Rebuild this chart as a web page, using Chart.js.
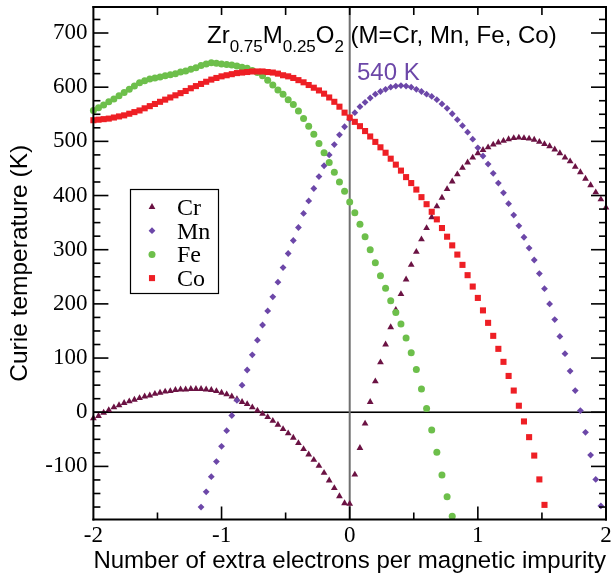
<!DOCTYPE html>
<html>
<head>
<meta charset="utf-8">
<script src="https://cdn.jsdelivr.net/npm/chart.js@4.4.1/dist/chart.umd.min.js"></script>
<style>
  html, body { margin: 0; padding: 0; background: #fff; }
  #wrap { width: 613px; height: 578px; position: relative; }
</style>
</head>
<body>
<div id="wrap"><canvas id="curie-chart"></canvas></div>
<script>
// extra electrons per impurity (shared by all four series)
const xValues = [
  -2.00, -1.96, -1.92, -1.88, -1.84, -1.80, -1.76, -1.72, -1.68, -1.64,
  -1.60, -1.56, -1.52, -1.48, -1.44, -1.40, -1.36, -1.32, -1.28, -1.24,
  -1.20, -1.16, -1.12, -1.08, -1.04, -1.00, -0.96, -0.92, -0.88, -0.84,
  -0.80, -0.76, -0.72, -0.68, -0.64, -0.60, -0.56, -0.52, -0.48, -0.44,
  -0.40, -0.36, -0.32, -0.28, -0.24, -0.20, -0.16, -0.12, -0.08, -0.04,
  0.00,
  0.04, 0.08, 0.12, 0.16, 0.20, 0.24, 0.28, 0.32, 0.36, 0.40,
  0.44, 0.48, 0.52, 0.56, 0.60, 0.64, 0.68, 0.72, 0.76, 0.80,
  0.84, 0.88, 0.92, 0.96, 1.00, 1.04, 1.08, 1.12, 1.16, 1.20,
  1.24, 1.28, 1.32, 1.36, 1.40, 1.44, 1.48, 1.52, 1.56, 1.60,
  1.64, 1.68, 1.72, 1.76, 1.80, 1.84, 1.88, 1.92, 1.96, 2.00
];

// Curie temperature (K), null = outside the plotted range
const crValues = [
  -11, -7, -1, 4, 9, 13, 17, 20, 23, 26,
  29, 31, 34, 36, 38, 39, 41, 42, 42, 43,
  43, 43, 42, 41, 39, 36, 33, 29, 24, 19,
  15, 9, 3, -3, -9, -16, -23, -31, -39, -47,
  -57, -68, -78, -88, -99, -112, -126, -140, -155, -168,
  -169,
  -115, -66, -21, 19, 57, 92, 125, 157, 189, 218,
  245, 272, 296, 319, 340, 360, 380, 396, 412, 426,
  439, 451, 461, 470, 478, 484, 489, 494, 498, 501,
  504, 506, 507, 506, 505, 503, 499, 495, 491, 485,
  478, 470, 463, 453, 443, 431, 419, 406, 393, 378
];

const mnValues = [
  null, null, null, null, null, null, null, null, null, null,
  null, null, null, null, null, null, null, null, null, null,
  null, -175, -147, -119, -91, -63, -34, -6, 22, 50,
  78, 106, 133, 161, 187, 213, 240, 267, 293, 317,
  341, 367, 390, 413, 435, 455, 475, 494, 512, 527,
  541,
  553, 564, 572, 580, 587, 592, 596, 600, 602, 603,
  602, 600, 596, 592, 587, 583, 577, 569, 561, 551,
  540, 529, 517, 504, 488, 473, 458, 441, 423, 405,
  385, 364, 344, 323, 303, 281, 256, 228, 200, 171,
  140, 108, 76, 40, 3, -37, -79, -124, -173, null
];

const feValues = [
  557, 562, 567, 573, 578, 584, 590, 596, 602, 608,
  612, 615, 617, 619, 621, 623, 625, 628, 630, 633,
  636, 640, 643, 645, 644, 643, 642, 641, 639, 637,
  635, 631, 627, 621, 613, 604, 595, 587, 577, 568,
  556, 542, 528, 513, 496, 479, 461, 443, 425, 408,
  388,
  368, 347, 324, 300, 276, 252, 229, 206, 184, 163,
  137, 110, 79, 43, 7, -33, -74, -116, -156, -192,
  null, null, null, null, null, null, null, null, null, null,
  null, null, null, null, null, null, null, null, null, null,
  null, null, null, null, null, null, null, null, null, null
];

const coValues = [
  539, 540, 541, 542, 544, 546, 548, 551, 554, 557,
  561, 565, 569, 573, 577, 581, 585, 589, 593, 598,
  602, 606, 610, 614, 617, 620, 622, 624, 626, 627,
  628, 629, 629, 629, 628, 627, 625, 622, 620, 617,
  613, 609, 604, 599, 594, 588, 581, 573, 564, 553,
  544,
  536, 528, 519, 509, 499, 489, 479, 468, 457, 446,
  434, 423, 411, 397, 384, 370, 356, 340, 324, 308,
  291, 272, 253, 232, 211, 188, 165, 141, 117, 93,
  67, 40, 12, -17, -46, -80, -124, -171, null, null,
  null, null, null, null, null, null, null, null, null, null
];

const seriesNames = ['Cr', 'Mn', 'Fe', 'Co'];
const xTickLabels = [-2, -1, 0, 1, 2];
const yTickLabels = [-100, 0, 100, 200, 300, 400, 500, 600, 700];
const xMinorStep = 0.5;
const yMinorStep = 25;

const colors = ['#6b1243', '#6c47a8', '#6dbf4b', '#ee1f25'];
const shapes = ['triangle', 'rectRot', 'circle', 'rect'];
const radii = [3.9, 3.4, 3.5, 4.3];

function toPoints(values) {
  const pts = [];
  values.forEach((v, i) => {
    if (v !== null) pts.push({ x: xValues[i], y: v });
  });
  return pts;
}

const allValues = [crValues, mnValues, feValues, coValues];

const datasets = seriesNames.map((name, i) => ({
  label: name,
  data: toPoints(allValues[i]),
  showLine: false,
  pointStyle: shapes[i],
  pointRadius: radii[i],
  pointBackgroundColor: colors[i],
  pointBorderColor: colors[i],
  pointBorderWidth: 0,
  order: 3 - i,
  clip: false
}));

function drawMarker(ctx, i, x, y) {
  if (Chart.helpers && Chart.helpers.drawPoint) {
    ctx.fillStyle = colors[i];
    ctx.strokeStyle = colors[i];
    ctx.lineWidth = 0;
    Chart.helpers.drawPoint(ctx, { pointStyle: shapes[i], radius: radii[i], rotation: 0, borderWidth: 0 }, x, y);
  }
}

// frame with inward ticks, zero lines, legend box and the text labels
const plotDecor = {
  id: 'plotDecor',
  beforeDatasetsDraw(chart) {
    const { ctx, chartArea: a, scales } = chart;
    const y0 = scales.y.getPixelForValue(0);
    const x0 = scales.x.getPixelForValue(0);
    ctx.save();
    ctx.fillStyle = '#000';
    ctx.fillRect(a.left, y0 - 0.8, a.right - a.left, 1.6);
    ctx.fillStyle = '#707070';
    ctx.fillRect(x0 - 1, a.top, 2, a.bottom - a.top);
    ctx.restore();
  },
  afterDraw(chart) {
    const { ctx, chartArea: a, scales } = chart;
    const xs = scales.x, ys = scales.y;
    ctx.save();
    ctx.fillStyle = '#000';
    // y ticks, left and right, pointing inward
    for (let v = -175; v <= 725; v += yMinorStep) {
      const py = ys.getPixelForValue(v);
      const len = (v % 100 === 0) ? 15 : 7;
      ctx.fillRect(a.left, py - 0.8, len, 1.6);
      ctx.fillRect(a.right - len, py - 0.8, len, 1.6);
    }
    // x ticks, bottom and top
    for (let v = -2 + xMinorStep; v < 2; v += xMinorStep) {
      const px = xs.getPixelForValue(v);
      const major = Math.abs(v - Math.round(v)) < 1e-9;
      const len = major ? 13 : 7;
      ctx.fillRect(px - 0.8, a.bottom - len, 1.6, len);
      ctx.fillRect(px - 0.8, a.top, 1.6, 8);
    }
    // frame
    ctx.fillRect(a.left - 1, a.top - 1, a.right - a.left + 2, 2);
    ctx.fillRect(a.left - 1, a.bottom - 1, a.right - a.left + 2, 2);
    ctx.fillRect(a.left - 1, a.top - 1, 2, a.bottom - a.top + 2);
    ctx.fillRect(a.right - 1, a.top - 1, 2, a.bottom - a.top + 2);

    // legend
    ctx.fillStyle = '#fff';
    ctx.fillRect(130, 189, 89, 105);
    ctx.strokeStyle = '#000';
    ctx.lineWidth = 1.2;
    ctx.strokeRect(130.5, 189.5, 88, 104);
    seriesNames.forEach((name, i) => {
      const ry = 207 + 23.7 * i;
      drawMarker(ctx, i, 152, ry);
      ctx.fillStyle = '#000';
      ctx.font = '24px "Liberation Serif"';
      ctx.textBaseline = 'alphabetic';
      ctx.textAlign = 'left';
      ctx.fillText(name, 177, ry + 8);
    });

    // formula title with subscripts
    const parts = [
      ['Zr', false], ['0.75', true], ['M', false], ['0.25', true],
      ['O', false], ['2', true], [' (M=Cr, Mn, Fe, Co)', false]
    ];
    let tx = 207;
    ctx.fillStyle = '#000';
    ctx.textBaseline = 'alphabetic';
    ctx.textAlign = 'left';
    parts.forEach(([txt, sub]) => {
      ctx.font = sub ? '17px "Liberation Sans"' : '24px "Liberation Sans"';
      ctx.fillText(txt, tx, sub ? 52 : 43);
      tx += ctx.measureText(txt).width;
    });
    ctx.fillStyle = '#6c47a8';
    ctx.font = '24px "Liberation Sans"';
    ctx.fillText('540 K', 357, 80);
    ctx.restore();
  }
};

Chart.defaults.color = '#000';

const curieChart = new Chart(document.getElementById('curie-chart').getContext('2d'), {
  type: 'scatter',
  data: { datasets },
  options: {
    responsive: true,
    maintainAspectRatio: false,
    animation: false,
    events: [],
    layout: { padding: { top: 7, right: 7, left: 0, bottom: 0 } },
    plugins: {
      legend: { display: false },
      tooltip: { enabled: false }
    },
    scales: {
      x: {
        type: 'linear',
        min: -2,
        max: 2,
        grid: { display: false, drawTicks: false },
        border: { display: false },
        ticks: {
          font: { family: 'Liberation Serif', size: 23 },
          padding: 3,
          maxRotation: 0,
          autoSkip: false,
          callback: v => String(v)
        },
        afterBuildTicks: scale => { scale.ticks = xTickLabels.map(v => ({ value: v })); },
        afterFit: scale => { scale.height = 58.5; scale.paddingLeft = 0; scale.paddingRight = 0; },
        title: {
          display: true,
          text: 'Number of extra electrons per magnetic impurity',
          font: { family: 'Liberation Sans', size: 24.5 },
          padding: { top: 0, bottom: 2 }
        }
      },
      y: {
        type: 'linear',
        min: -198,
        max: 748,
        grid: { display: false, drawTicks: false },
        border: { display: false },
        ticks: {
          font: { family: 'Liberation Serif', size: 23 },
          padding: 6,
          autoSkip: false,
          callback: v => String(v)
        },
        afterBuildTicks: scale => { scale.ticks = yTickLabels.map(v => ({ value: v })); },
        afterFit: scale => { scale.width = 93.4; scale.paddingTop = 0; scale.paddingBottom = 0; },
        title: {
          display: true,
          text: 'Curie temperature (K)',
          font: { family: 'Liberation Sans', size: 24.5 },
          padding: { top: 6, bottom: 0 }
        }
      }
    }
  },
  plugins: [plotDecor]
});
</script>
</body>
</html>
